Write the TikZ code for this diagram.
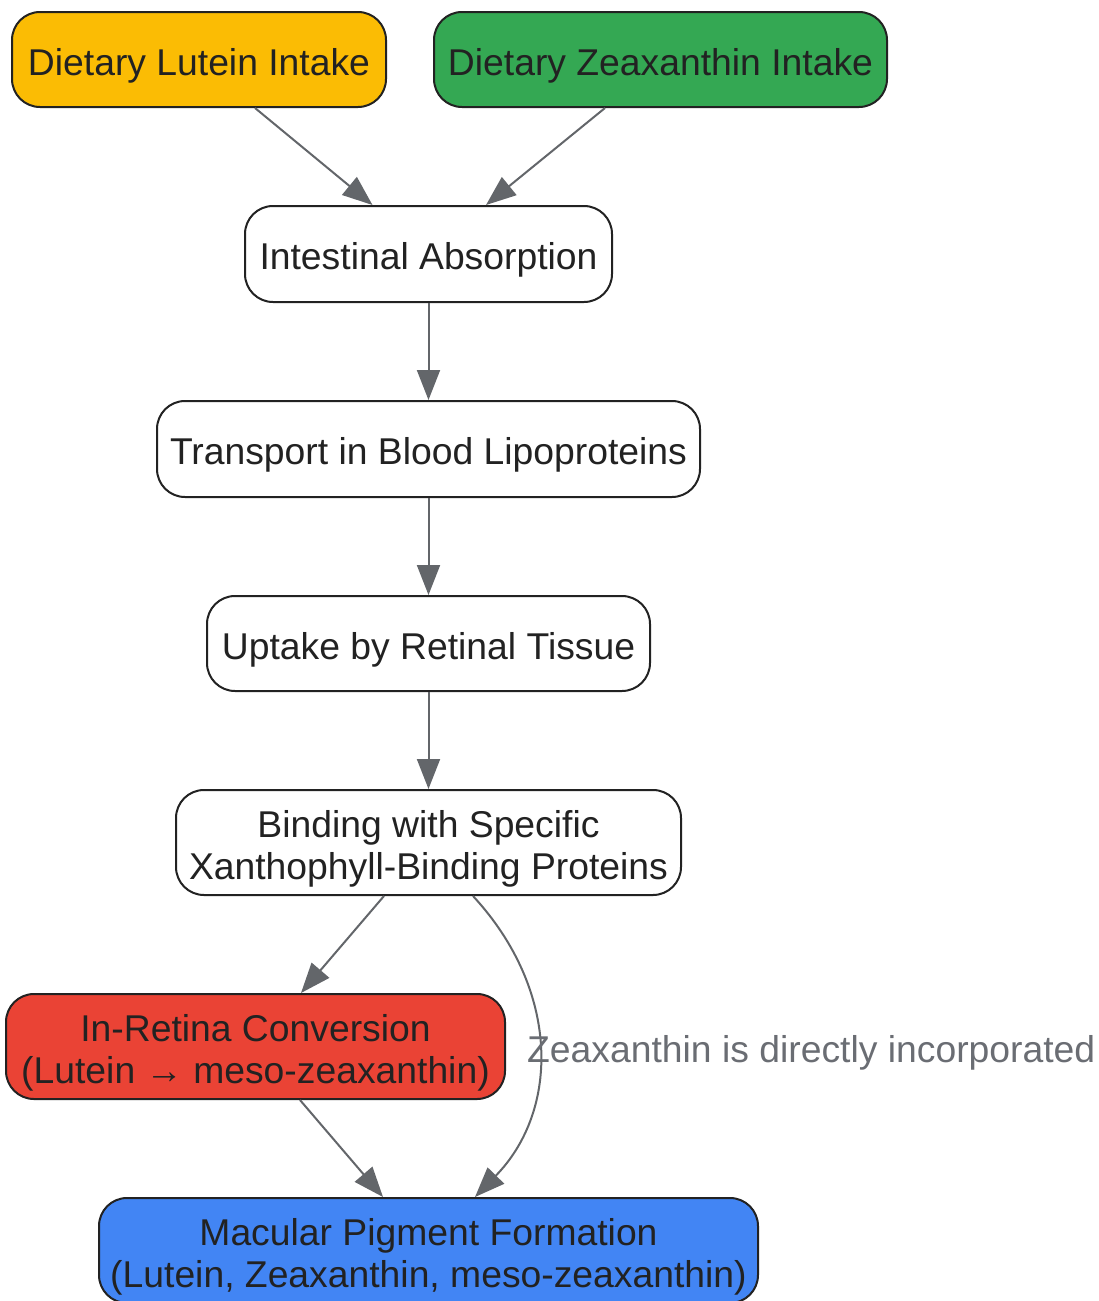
\documentclass[tikz,border=0pt]{standalone}
\usepackage{fontspec}
\setmainfont{Liberation Sans}
\usetikzlibrary{arrows.meta,calc}
\definecolor{cLut}{HTML}{FBBC04}
\definecolor{cZea}{HTML}{34A853}
\definecolor{cConv}{HTML}{EA4335}
\definecolor{cMac}{HTML}{4285F4}
\definecolor{cEdge}{HTML}{63666A}
\definecolor{cText}{HTML}{222222}
\definecolor{cLab}{HTML}{6A6D73}
\tikzset{
  box/.style={draw=cText, line width=2pt, rounded corners=28pt, fill=white,
    inner sep=0pt},
  boxtext/.style={text=cText, align=center, inner sep=0pt, yshift=-6pt,
    font=\fontsize{37.3}{42}\selectfont},
  flow/.style={draw=cEdge, line width=2pt, -{Triangle[length=30pt,width=23pt]}},
  elabel/.style={text=cLab, anchor=west, inner sep=0pt, font=\fontsize{37.3}{42}\selectfont}
}
\begin{document}
\begin{tikzpicture}[x=1pt,y=-1pt]
\useasboundingbox (0,0) rectangle (1098,1301);
\begin{scope}
\clip (0,0) rectangle (1098,1301);
\node[box, fill=cLut, minimum width=374pt, minimum height=95pt,
  label={[boxtext]center:Dietary Lutein Intake}] (lut) at (199,59.5) {};
\node[box, fill=cZea, minimum width=453pt, minimum height=95pt,
  label={[boxtext]center:Dietary Zeaxanthin Intake}] (zea) at (660.5,59.5) {};
\node[box, minimum width=367pt, minimum height=96pt,
  label={[boxtext]center:Intestinal Absorption}] (abs) at (428.5,254) {};
\node[box, minimum width=543pt, minimum height=96pt,
  label={[boxtext]center:Transport in Blood Lipoproteins}] (tra) at (428.5,449) {};
\node[box, minimum width=443pt, minimum height=95pt,
  label={[boxtext]center:Uptake by Retinal Tissue}] (upt) at (428.5,643.5) {};
\node[box, minimum width=505pt, minimum height=105pt,
  label={[boxtext]center:{Binding with Specific\\Xanthophyll-Binding Proteins}}] (bind) at (428.5,842.5) {};
\node[box, fill=cConv, minimum width=499pt, minimum height=105pt,
  label={[boxtext]center:{In-Retina Conversion\\(Lutein → meso-zeaxanthin)}}] (conv) at (255.5,1046.5) {};
\node[box, fill=cMac, minimum width=659pt, minimum height=105pt,
  label={[boxtext]center:{Macular Pigment Formation\\(Lutein, Zeaxanthin, meso-zeaxanthin)}}] (mac) at (428.5,1250.5) {};

\draw[flow] ($(lut.south)+(56,0)$) -- ($(abs.north)+(-56,0)$);
\draw[flow] ($(zea.south)+(-55.5,0)$) -- ($(abs.north)+(57.5,0)$);
\draw[flow] (abs.south) -- (tra.north);
\draw[flow] (tra.south) -- (upt.north);
\draw[flow] (upt.south) -- (bind.north);
\draw[flow] ($(bind.south)+(-44.5,0)$) -- ($(conv.north)+(45.5,0)$);
\draw[flow] ($(conv.south)+(44.5,0)$) -- ($(mac.north)+(-45.5,0)$);
\draw[flow] ($(bind.south)+(44.5,0)$) .. controls (560,990) and (560,1110) .. ($(mac.north)+(46.5,0)$);
\node[elabel] (lab) at (527,1053) {Zeaxanthin is directly incorporated};
\end{scope}
\end{tikzpicture}
\end{document}
